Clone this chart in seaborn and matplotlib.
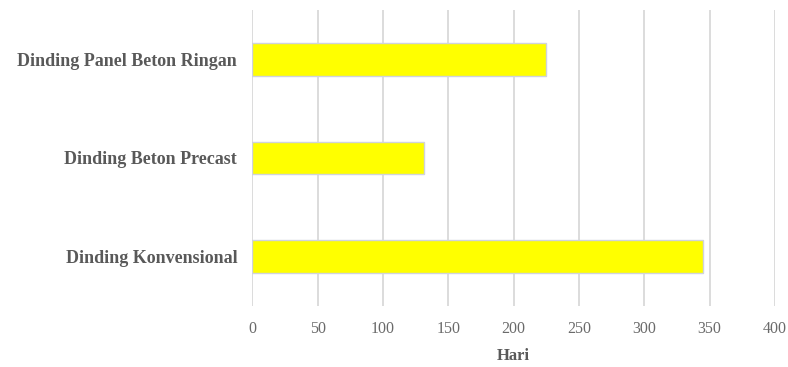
import matplotlib
matplotlib.use("Agg")
import matplotlib.pyplot as plt
import seaborn as sns
import pandas as pd

categories = ["Dinding Panel Beton Ringan", "Dinding Beton Precast", "Dinding Konvensional"]
durations = [225, 131, 345]
x_ticks = [0, 50, 100, 150, 200, 250, 300, 350, 400]

df = pd.DataFrame({"Pekerjaan": categories, "Hari": durations})

sns.set_theme(style="white")
plt.rcParams["font.family"] = ["Liberation Serif", "DejaVu Serif"]

fig = plt.figure(figsize=(7.88, 3.67), dpi=100)
ax = fig.add_axes([252.5 / 788, 1 - 306 / 367, (775 - 252.5) / 788, (306 - 10) / 367])

sns.barplot(data=df, y="Pekerjaan", x="Hari", order=categories, color="#ffff00",
            width=0.33, edgecolor="#d0d3dc", linewidth=1.0, saturation=1, ax=ax)

ax.set_xlim(0, 400)
ax.set_ylim(2.5, -0.5)
ax.set_xticks(x_ticks)
ax.set_xticklabels([str(t) for t in x_ticks], fontsize=11.5, color="#6a6a6a")
ax.set_xlabel("Hari", fontsize=12, fontweight="bold", color="#595959", labelpad=8)
ax.set_ylabel("")
ax.tick_params(axis="y", length=0, pad=11)
ax.tick_params(axis="x", length=0, pad=11)
for lab in ax.get_yticklabels():
    lab.set_fontsize(13)
    lab.set_fontweight("bold")
    lab.set_color("#595959")

ax.grid(axis="x", color="#d9d9d9", linewidth=1.3)
ax.grid(axis="y", visible=False)
ax.set_axisbelow(True)
for s in ax.spines.values():
    s.set_visible(False)

fig.savefig("out.png", dpi=100, facecolor="white")
